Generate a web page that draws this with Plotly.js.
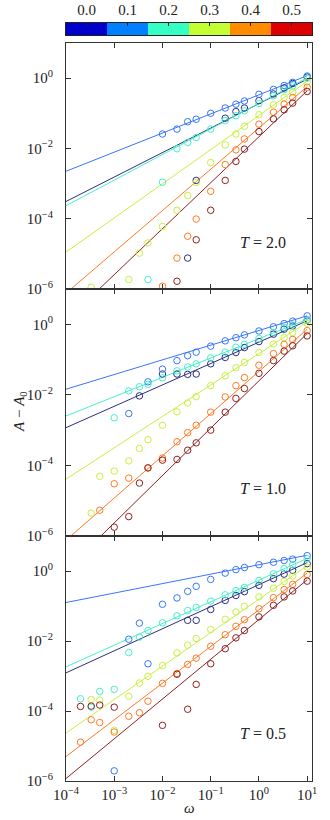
<!DOCTYPE html>
<html>
<head>
<meta charset="utf-8">
<script src="https://cdn.plot.ly/plotly-3.0.1.min.js"></script>
<style>
  html, body { margin: 0; padding: 0; background: #fff; }
  #chart { width: 330px; height: 820px; }
</style>
</head>
<body>
<div id="chart"></div>
<script>
// omega grid shared by all panels
const omega = [2e-4, 3.33e-4, 5e-4, 1e-3, 2e-3, 3.33e-3, 5e-3, 1e-2, 2e-2, 3.33e-2, 5e-2,
               0.1, 0.2, 0.333, 0.5, 1, 2, 3.33, 5, 10];

// colorbar categories
const cbValues = [0.0, 0.1, 0.2, 0.3, 0.4, 0.5];
const cbLabels = ["0.0", "0.1", "0.2", "0.3", "0.4", "0.5"];

// log10(A - A0), null = no point
// T = 2.0
const t20_s0 = [null, null, null, null, null, null, null, null, null, -5.12, -2.91, null, -1.14, -0.95, -0.85, -0.64, -0.45, -0.28, -0.15, 0.03];
const t20_s1 = [null, null, null, null, null, null, null, -1.59, -1.45, -1.24, -1.17, -1.00, -0.85, -0.74, -0.65, -0.46, -0.32, -0.21, -0.12, 0.06];
const t20_s2 = [null, null, null, null, null, null, -5.73, -2.96, -2.01, -1.83, -1.69, -1.45, -1.21, -1.07, -0.93, -0.72, -0.50, -0.33, -0.22, 0.00];
const t20_s3 = [null, -5.95, null, null, -5.73, -4.98, -4.69, -4.22, -3.76, -3.34, -2.97, -2.40, -1.90, -1.59, -1.37, -1.04, -0.76, -0.55, -0.40, -0.11];
const t20_s4 = [null, null, null, null, null, null, null, -5.92, -5.12, -4.50, -4.01, -3.22, -2.46, -2.04, -1.73, -1.31, -0.97, -0.74, -0.55, -0.26];
const t20_s5 = [null, null, null, null, null, null, null, null, -5.78, null, -4.60, -3.76, -2.91, -2.37, -2.02, -1.52, -1.16, -0.90, -0.71, -0.38];
// T = 1.0
const t10_s0 = [null, null, null, null, null, -2.03, null, -1.41, -1.41, -1.42, -1.41, -1.12, -0.94, -0.80, -0.66, -0.49, -0.28, -0.14, -0.05, 0.12];
const t10_s1 = [null, null, null, null, -2.53, null, -1.63, -1.27, -1.03, -0.89, -0.79, -0.62, -0.47, -0.38, -0.30, -0.19, -0.07, 0.02, 0.09, 0.24];
const t10_s2 = [null, null, null, -2.65, -1.89, -1.77, -1.70, -1.52, -1.32, -1.21, -1.12, -0.95, -0.79, -0.65, -0.57, -0.40, -0.23, -0.09, -0.02, 0.12];
const t10_s3 = [null, -5.35, -4.31, -4.16, -3.87, -3.52, -3.27, -2.86, -2.48, -2.23, -2.05, -1.74, -1.46, -1.23, -1.08, -0.80, -0.56, -0.38, -0.24, 0.03];
const t10_s4 = [null, null, -5.27, -4.52, -4.36, null, -4.07, -3.79, -3.33, -3.07, -2.86, -2.49, -2.06, -1.74, -1.51, -1.16, -0.83, -0.57, -0.43, -0.18];
const t10_s5 = [null, null, null, -5.75, -5.45, -4.50, -4.07, -3.85, -3.83, -3.57, -3.36, -3.00, -2.49, -2.10, -1.82, -1.39, -1.03, -0.76, -0.61, -0.33];
// T = 0.5
const t05_s0 = [null, null, null, null, null, null, null, null, null, -1.41, -1.41, -1.10, -0.84, -0.70, -0.59, -0.41, -0.22, -0.09, 0.02, 0.21];
const t05_s1 = [null, null, null, -5.71, -1.95, -1.49, -2.65, -0.95, -0.77, -0.58, -0.44, -0.24, -0.06, 0.04, 0.10, 0.18, 0.25, 0.30, 0.34, 0.44];
const t05_s2 = [-3.65, -3.89, -3.44, -3.38, -2.33, -1.89, -1.70, -1.48, -1.28, -1.13, -1.04, -0.86, -0.68, -0.56, -0.47, -0.27, -0.08, 0.07, 0.18, 0.35];
const t05_s3 = [null, -3.67, -3.69, -4.55, -3.58, -3.20, -3.01, -2.70, -2.34, -2.12, -1.93, -1.67, -1.38, -1.17, -1.01, -0.74, -0.49, -0.30, -0.14, 0.11];
const t05_s4 = [-4.89, -4.25, -4.33, -4.60, -4.15, -4.05, -3.72, -3.21, -2.93, -2.67, -2.49, -2.15, -1.82, -1.58, -1.39, -1.08, -0.76, -0.53, -0.38, -0.10];
const t05_s5 = [-3.87, -3.86, -3.83, -3.89, null, null, null, -4.41, -2.95, -3.95, -3.24, -2.65, -2.22, -1.91, -1.70, -1.31, -0.98, -0.74, -0.57, -0.29];

// fitted power-law lines: log10 value at omega = 1e-4 and omega = 10
const fitX = [1e-4, 10];
const t20_fit = [[-3.51, -0.03], [-2.65, 0.07], [-3.63, 0.01], [-4.95, -0.09], [-6.12, -0.24], [-6.90, -0.36]];
const t10_fit = [[-2.93, 0.10], [-1.84, 0.24], [-2.60, 0.14], [-4.39, 0.06], [-6.12, -0.14], [-6.97, -0.26]];
const t05_fit = [[-2.91, 0.24], [-0.90, 0.45], [-2.74, 0.36], [-4.63, 0.15], [-5.30, -0.06], [-5.93, -0.25]];

const seriesColors = ["#2d2d85", "#3775ff", "#45f0c8", "#c8f040", "#ff7a26", "#8f2020"];
const barColors = ["#0000cc", "#0080ff", "#36ffc4", "#c4ff36", "#ff8c00", "#dd0000"];

const panels = [
    {x: "x", y: "y", pts: [t20_s0, t20_s1, t20_s2, t20_s3, t20_s4, t20_s5], fit: t20_fit},
    {x: "x2", y: "y2", pts: [t10_s0, t10_s1, t10_s2, t10_s3, t10_s4, t10_s5], fit: t10_fit},
    {x: "x3", y: "y3", pts: [t05_s0, t05_s1, t05_s2, t05_s3, t05_s4, t05_s5], fit: t05_fit}
];

const traces = [];
panels.forEach(p => {
    p.fit.forEach((f, i) => {
        traces.push({
            type: "scatter", mode: "lines", xaxis: p.x, yaxis: p.y,
            x: fitX, y: f.map(v => Math.pow(10, v)),
            line: {color: seriesColors[i], width: 1},
            showlegend: false, hoverinfo: "skip"
        });
    });
    p.pts.forEach((arr, i) => {
        const xs = [], ys = [];
        arr.forEach((v, k) => { if (v !== null) { xs.push(omega[k]); ys.push(Math.pow(10, v)); } });
        traces.push({
            type: "scatter", mode: "markers", xaxis: p.x, yaxis: p.y,
            x: xs, y: ys,
            marker: {symbol: "circle-open", size: 6.5, color: seriesColors[i], line: {width: 1, color: seriesColors[i]}},
            showlegend: false
        });
    });
});

// discrete colour bar on top
traces.push({
    type: "heatmap", xaxis: "x4", yaxis: "y4",
    x: cbValues, y: [0], z: [[0, 1, 2, 3, 4, 5]],
    zmin: 0, zmax: 5, showscale: false, hoverinfo: "skip",
    colorscale: [[0, barColors[0]], [0.1, barColors[0]], [0.1, barColors[1]], [0.3, barColors[1]],
                 [0.3, barColors[2]], [0.5, barColors[2]], [0.5, barColors[3]], [0.7, barColors[3]],
                 [0.7, barColors[4]], [0.9, barColors[4]], [0.9, barColors[5]], [1, barColors[5]]]
});

const W = 330, H = 820;
const xDom = [66 / W, 312 / W];
const yDom = (top, bottom) => [1 - bottom / H, 1 - top / H];

const tickFont = {family: "Liberation Serif", size: 15, color: "#222"};
const sup = s => "10<sup>" + s + "</sup>";

function xAxis(anchor, labels) {
    return {
        type: "log", range: [-4, 1.1], domain: xDom, anchor: anchor,
        showline: true, linecolor: "#333", linewidth: 1, mirror: "ticks",
        ticks: "inside", ticklen: 5, tickcolor: "#333",
        tickvals: [1e-4, 1e-3, 1e-2, 1e-1, 1, 10],
        ticktext: [sup("−4"), sup("−3"), sup("−2"), sup("−1"), sup("0"), sup("1")],
        showticklabels: labels, showgrid: false, zeroline: false,
        tickfont: tickFont, ticklabelstandoff: 0
    };
}
function yAxis(anchor, dom) {
    return {
        type: "log", range: [-6, 1], domain: dom, anchor: anchor,
        showline: true, linecolor: "#333", linewidth: 1, mirror: "ticks",
        ticks: "inside", ticklen: 5, tickcolor: "#333",
        tickvals: [1e-6, 1e-4, 1e-2, 1],
        ticktext: [sup("−6"), sup("−4"), sup("−2"), sup("0")],
        showgrid: false, zeroline: false,
        tickfont: tickFont, ticklabelstandoff: 9
    };
}

const annFont = {family: "Liberation Serif", size: 16, color: "#222"};
const ann = (text, px, py, extra) => Object.assign({
    text: text, xref: "paper", yref: "paper", x: px / W, y: 1 - py / H,
    xanchor: "center", yanchor: "middle", showarrow: false, font: annFont
}, extra || {});

const layout = {
    width: W, height: H,
    margin: {l: 0, r: 0, t: 0, b: 0},
    paper_bgcolor: "#fff", plot_bgcolor: "#fff",
    showlegend: false,
    xaxis: xAxis("y", false),
    yaxis: yAxis("x", yDom(43, 289)),
    xaxis2: xAxis("y2", false),
    yaxis2: yAxis("x2", yDom(289, 536)),
    xaxis3: xAxis("y3", true),
    yaxis3: yAxis("x3", yDom(536, 781)),
    xaxis4: {
        domain: xDom, anchor: "y4", side: "top", range: [-0.05, 0.55],
        tickvals: cbValues, ticktext: cbLabels,
        ticks: "inside", ticklen: 3, tickcolor: "#222",
        showline: true, linecolor: "#222", linewidth: 1, mirror: true,
        showgrid: false, zeroline: false, tickfont: tickFont, ticklabelstandoff: 1
    },
    yaxis4: {
        domain: yDom(23, 35), anchor: "x4", range: [-0.5, 0.5],
        showticklabels: false, ticks: "", showline: true, linecolor: "#222", mirror: true,
        showgrid: false, zeroline: false
    },
    annotations: [
        ann("<i>T</i> = 2.0", 263, 242),
        ann("<i>T</i> = 1.0", 263, 488),
        ann("<i>T</i> = 0.5", 263, 733),
        ann("<i>A</i> − <i>A</i><sub>0</sub>", 20, 412, {textangle: -90, font: {family: "Liberation Serif", size: 15, color: "#222"}}),
        ann("<i>ω</i>", 189, 808, {font: {family: "Liberation Serif", size: 15, color: "#222"}})
    ]
};

Plotly.newPlot("chart", traces, layout, {displayModeBar: false, staticPlot: true});
</script>
</body>
</html>
